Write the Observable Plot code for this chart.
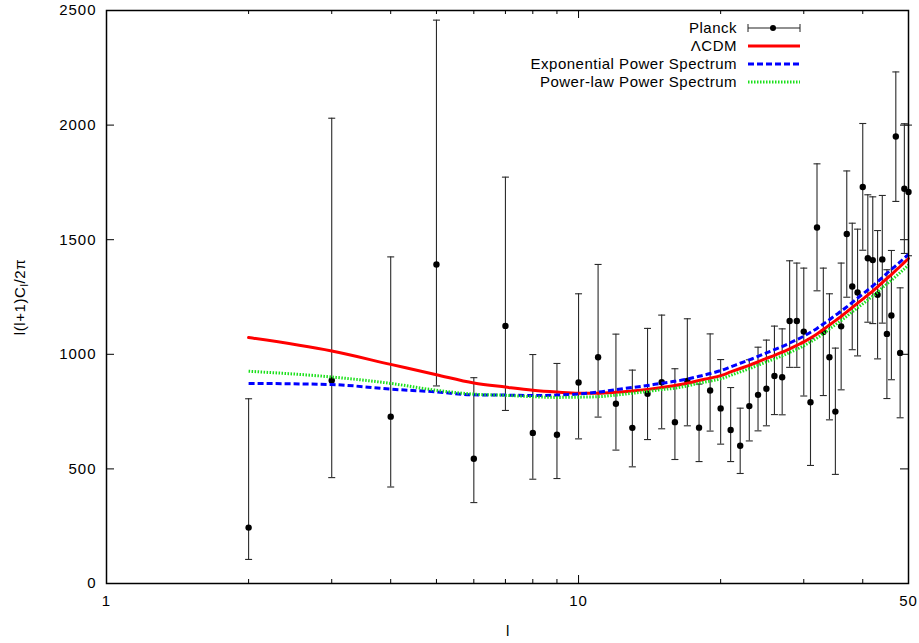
<!DOCTYPE html>
<html><head><meta charset="utf-8">
<script src="https://cdn.jsdelivr.net/npm/d3@7"></script>
<script src="https://cdn.jsdelivr.net/npm/@observablehq/plot@0.6"></script>
<style>
body{margin:0;background:#fff;}
#wrap{position:relative;width:919px;height:643px;font-family:"Liberation Sans",Arial,sans-serif;color:#000;}
#wrap svg text{letter-spacing:1px;}
.lab{position:absolute;font-size:15px;white-space:nowrap;letter-spacing:0.6px;}
.legtext{position:absolute;font-size:15px;line-height:18px;white-space:nowrap;letter-spacing:0.5px;text-align:right;}
</style></head><body><div id="wrap"></div>
<script>
// multipole moments
const ell = [2,3,4,5,6,7,8,9,10,11,12,13,14,15,16,17,18,19,20,21,22,23,24,25,26,27,28,29,30,31,32,33,34,35,36,37,38,39,40,41,42,43,44,45,46,47,48,49,50];
// Planck data: value, lower and upper error bar ends
const planck = [244,886,728,1392,544,1124,657,649,877,987,784,679,828,878,704,884,680,842,764,670,601,774,823,850,905,900,1145,1145,1099,791,1553,1097,987,750,1122,1525,1296,1270,1730,1419,1411,1260,1414,1089,1169,1950,1006,1722,1708];
const planckLow = [105,462,421,862,353,755,455,458,631,726,582,509,628,675,541,688,532,665,608,532,480,622,666,688,737,736,943,943,818,515,1277,820,714,476,845,1249,1020,993,1454,1140,1134,980,1136,807,889,1667,723,1440,1430];
const planckHigh = [806,2030,1425,2458,898,1773,999,960,1264,1392,1088,931,1113,1171,937,1155,870,1089,977,855,765,976,1031,1062,1123,1111,1408,1398,1376,1068,1831,1376,1264,1027,1398,1800,1572,1546,2007,1696,1687,1540,1693,1369,1453,2232,1290,2006,2000];
// model curves
const lcdm = [1073,1014,956,911,875,857,843,835,830,830,834,840,847,855,864,874,886,896,907,923,938,952,967,982,995,1009,1024,1039,1054,1071,1089,1108,1128,1147,1165,1185,1204,1223,1241,1259,1276,1294,1313,1331,1348,1366,1383,1401,1418];
const expPS = [873,868,848,836,823,822,820,822,827,835,846,855,864,874,882,892,904,916,929,945,961,976,991,1006,1020,1034,1049,1064,1079,1096,1113,1132,1151,1170,1188,1207,1226,1245,1263,1281,1298,1316,1335,1353,1370,1387,1403,1420,1436];
const powPS = [926,901,873,843,826,821,815,812,813,815,822,830,838,846,852,862,874,883,893,908,923,937,952,967,980,993,1008,1022,1037,1054,1071,1090,1110,1129,1147,1166,1185,1203,1220,1237,1254,1271,1290,1307,1323,1340,1356,1373,1390];
// ticks
const xMajor = [1,10,50];
const xMinor = [2,3,4,5,6,7,8,9,20,30,40];
const xLabels = [1,10,50];
const yTicks = [0,500,1000,1500,2000,2500];
const legendNames = ["Planck","\u039BCDM","Exponential Power Spectrum","Power-law Power Spectrum"];

const W = 919, H = 643, mL = 106, mR = 11, mT = 10, mB = 60;
const iw = W - mL - mR, ih = H - mT - mB;

const pdata = ell.map((l,i)=>({l, v:planck[i], lo:planckLow[i], hi:planckHigh[i]}));
const mk = arr => ell.map((l,i)=>({l, v:arr[i]}));

const capSymbol = {draw(ctx, size){const r=Math.sqrt(size/Math.PI); ctx.moveTo(-r,0); ctx.lineTo(r,0);}};
const GREEN = "#1be01b";

const chart = Plot.plot({
  width: W, height: H,
  marginLeft: mL, marginRight: mR, marginTop: mT, marginBottom: mB,
  style: {fontFamily: "Liberation Sans, Arial, sans-serif", fontSize: "15px", color: "black", background: "white"},
  x: {type: "log", domain: [1,50]},
  y: {domain: [0,2500]},
  marks: [
    // inward ticks on all four sides
    Plot.tickX(xMajor, {x: d=>d, insetTop: ih-8, stroke:"black"}),
    Plot.tickX(xMajor, {x: d=>d, insetBottom: ih-8, stroke:"black"}),
    Plot.tickX(xMinor, {x: d=>d, insetTop: ih-4, stroke:"black"}),
    Plot.tickX(xMinor, {x: d=>d, insetBottom: ih-4, stroke:"black"}),
    Plot.tickY(yTicks, {y: d=>d, insetRight: iw-8, stroke:"black"}),
    Plot.tickY(yTicks, {y: d=>d, insetLeft: iw-8, stroke:"black"}),
    Plot.axisX(xLabels, {tickSize: 0, tickPadding: 12, tickFormat: d=>String(d), label: null}),
    Plot.axisY(yTicks, {tickSize: 0, tickPadding: 10, tickFormat: d=>String(d), label: null}),
    // Planck error bars
    Plot.ruleX(pdata, {x:"l", y1:"lo", y2:"hi", stroke:"#2a2a2a", strokeWidth:1.1}),
    Plot.dot(pdata, {x:"l", y:"lo", symbol: capSymbol, r:3.5, stroke:"#2a2a2a", strokeWidth:1.1, fill:"none"}),
    Plot.dot(pdata, {x:"l", y:"hi", symbol: capSymbol, r:3.5, stroke:"#2a2a2a", strokeWidth:1.1, fill:"none"}),
    Plot.dot(pdata, {x:"l", y:"v", r:3.2, fill:"black", stroke:"none"}),
    // model curves
    Plot.line(mk(lcdm), {x:"l", y:"v", stroke:"#ff0000", strokeWidth:3, curve:"monotone-x"}),
    Plot.line(mk(expPS), {x:"l", y:"v", stroke:"#0000ff", strokeWidth:3, strokeDasharray:"6 3", strokeLinecap:"butt", curve:"monotone-x"}),
    Plot.line(mk(powPS), {x:"l", y:"v", stroke:GREEN, strokeWidth:3, strokeDasharray:"1.5 1.5", strokeLinecap:"butt", curve:"monotone-x"}),
    Plot.frame({stroke:"black", strokeWidth:1.5})
  ]
});
const wrap = document.getElementById("wrap");
wrap.appendChild(chart);

// axis titles
const yl = document.createElement("div");
yl.className = "lab";
yl.innerHTML = "l(l+1)C<sub style='font-size:11px;vertical-align:-3px'>l</sub>/2\u03C0";
yl.style.left = "20px"; yl.style.top = "297px";
yl.style.transform = "translate(-50%,-50%) rotate(-90deg)";
wrap.appendChild(yl);
const xl = document.createElement("div");
xl.className = "lab";
xl.textContent = "l";
xl.style.left = "508px"; xl.style.top = "630px";
xl.style.transform = "translate(-50%,-50%)";
wrap.appendChild(xl);

// legend (top right, gnuplot style)
const rowsY = [28,46,64,82];
const samples = [
  `<line x1="2" y1="9" x2="54" y2="9" stroke="#222" stroke-width="1.2"/><line x1="2" y1="5" x2="2" y2="13" stroke="#222"/><line x1="54" y1="5" x2="54" y2="13" stroke="#222"/><circle cx="27" cy="9" r="3" fill="black"/>`,
  `<line x1="2" y1="9" x2="54" y2="9" stroke="#ff0000" stroke-width="3"/>`,
  `<line x1="2" y1="9" x2="54" y2="9" stroke="#0000ff" stroke-width="3" stroke-dasharray="6,3"/>`,
  `<line x1="2" y1="9" x2="54" y2="9" stroke="${GREEN}" stroke-width="3" stroke-dasharray="1.5,1.5"/>`
];
legendNames.forEach((name,i)=>{
  const t = document.createElement("div");
  t.className = "legtext";
  t.style.right = (W - 737) + "px";
  t.style.top = (rowsY[i] - 9) + "px";
  t.textContent = name;
  wrap.appendChild(t);
  const s = document.createElementNS("http://www.w3.org/2000/svg","svg");
  s.setAttribute("width","56"); s.setAttribute("height","18");
  s.style.position = "absolute";
  s.style.left = "746px"; s.style.top = (rowsY[i] - 9) + "px";
  s.innerHTML = samples[i];
  wrap.appendChild(s);
});
</script>
</body></html>
